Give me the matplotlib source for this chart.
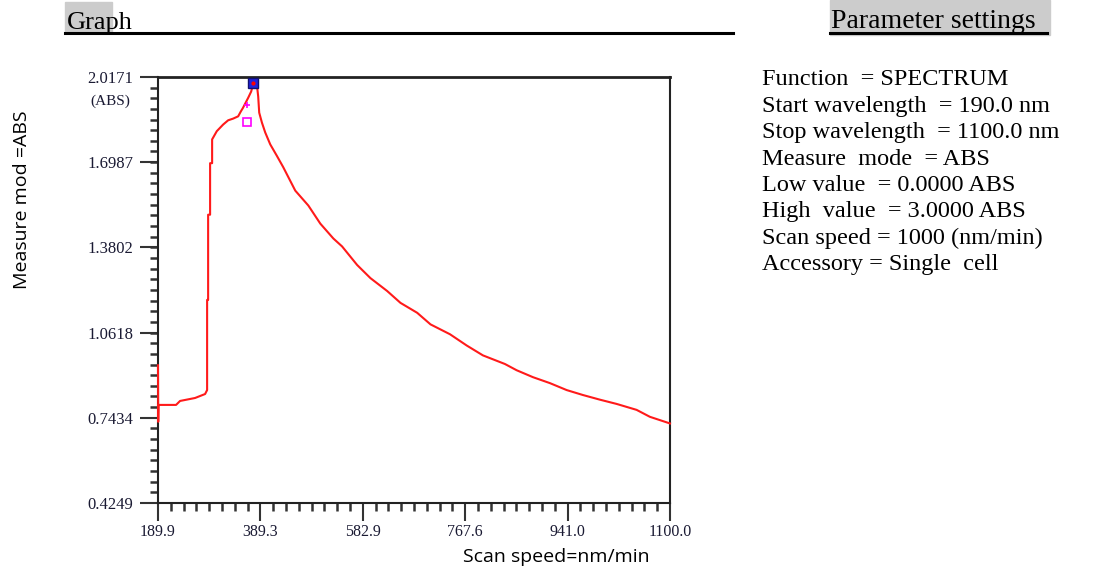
import numpy as np
import matplotlib.pyplot as plt
from matplotlib.ticker import AutoMinorLocator

# spectrum trace
wavelength = [189.9, 190.3, 190.8, 222.0, 229.1, 255.8, 273.6, 277.2,
              277.2, 279.0, 279.0, 282.5, 282.5, 286.1, 286.1, 294.4,
              305.7, 314.6, 323.5, 332.4, 337.2, 340.8, 350.2, 355.5,
              358.6, 359.6, 365.7, 368.0, 369.8, 374.6, 380.5, 389.4,
              401.3, 412.5, 433.9, 457.1, 478.4, 501.6, 517.1, 543.8,
              567.5, 597.2, 620.9, 650.6, 674.3, 709.0, 738.6, 767.5,
              806.6, 827.4, 856.4, 886.6, 916.3, 945.2, 975.4, 1005.1,
              1040.6, 1064.3, 1100.0]
absorbance = [0.9396, 0.7285, 0.7915, 0.7915, 0.8063, 0.8174, 0.8322, 0.8470,
              1.1840, 1.1840, 1.5024, 1.5024, 1.6950, 1.6950, 1.7838, 1.8146,
              1.8394, 1.8553, 1.8616, 1.8701, 1.8886, 1.9012, 1.9393, 1.9627,
              1.9875, 1.9960, 1.9875, 1.9442, 1.8838, 1.8468, 1.8097, 1.7653,
              1.7220, 1.6801, 1.5924, 1.5368, 1.4691, 1.4135, 1.3839, 1.3147,
              1.2654, 1.2173, 1.1729, 1.1358, 1.0925, 1.0555, 1.0136, 0.9766,
              0.9444, 0.9211, 0.8952, 0.8729, 0.8470, 0.8285, 0.8111, 0.7952,
              0.7730, 0.7470, 0.7222]

peak_x, peak_y = 359.6, 1.9960
cursor_x, cursor_y = 347.9, 1.8479
plus_x, plus_y = 348.4, 1.9134

x_labels = ["189.9", "389.3", "582.9", "767.6", "941.0", "1100.0"]
y_ticks = [2.0171, 1.6987, 1.3802, 1.0618, 0.7434, 0.4249]

params = ["Function  = SPECTRUM",
          "Start wavelength  = 190.0 nm",
          "Stop wavelength  = 1100.0 nm",
          "Measure  mode  = ABS",
          "Low value  = 0.0000 ABS",
          "High  value  = 3.0000 ABS",
          "Scan speed = 1000 (nm/min)",
          "Accessory = Single  cell"]

fig = plt.figure(figsize=(10.95, 5.77), dpi=100)
ax = fig.add_axes([158 / 1095, 1 - 503 / 577, 512 / 1095, 426 / 577])

ax.plot(wavelength, absorbance, color="#ff1a1a", lw=1.5, zorder=3, clip_on=False)
ax.plot(peak_x, peak_y, marker="s", ms=7, mfc="#2222dd", mec="#101070", mew=1, zorder=4)
ax.plot(peak_x, peak_y, marker="o", ms=2, color="red", zorder=5)
ax.plot(cursor_x, cursor_y, marker="s", ms=6, mfc="none", mec="magenta", mew=1.2, zorder=4)
ax.plot(plus_x, plus_y, marker="+", ms=5, color="magenta", mew=1.2, zorder=4)

ax.set_xlim(189.9, 1100.0)
ax.set_ylim(0.4249, 2.0171)
ax.set_xticks(np.linspace(189.9, 1100.0, len(x_labels)), x_labels)
ax.set_yticks(y_ticks, [f"{v:.4f}" for v in y_ticks])
ax.xaxis.set_minor_locator(AutoMinorLocator(8))
ax.yaxis.set_minor_locator(AutoMinorLocator(8))
ax.tick_params(which="major", direction="out", length=13, width=1.5, color="#333333")
ax.tick_params(which="minor", direction="out", length=6, width=1.8, color="#333333")
ax.tick_params(axis="x", labelsize=11.5, pad=2)
ax.tick_params(axis="y", labelsize=12, pad=5)
for lab in ax.get_xticklabels() + ax.get_yticklabels():
    lab.set_family("Liberation Serif")
    lab.set_color("#1a1a33")
for s in ax.spines.values():
    s.set_linewidth(1.5)
    s.set_color("#222222")
ax.spines["top"].set_linewidth(2)

ax.text(130 / 1095, 1 - 101 / 577, "(ABS)", transform=fig.transFigure, ha="right",
        va="center", fontsize=11, family="Liberation Serif", color="#1a1a33")

fig.text(22 / 1095, 1 - 200 / 577, "Measure mod =ABS", rotation=90, ha="center",
         va="center", fontsize=14, family="Open Sans")
fig.text(556 / 1095, 1 - 557 / 577, "Scan speed=nm/min", ha="center", va="center",
         fontsize=14, family="Open Sans")

# headings with grey highlight and underline
fig.patches.append(plt.Rectangle((65 / 1095, 1 - 33 / 577), 47 / 1095, 31 / 577,
                                 transform=fig.transFigure, color="#cccccc", zorder=0))
fig.text(67 / 1095, 1 - 29 / 577, "Graph", fontsize=19, family="Liberation Serif", va="baseline")
fig.add_artist(plt.Line2D([65 / 1095, 733 / 1095], [1 - 32.5 / 577] * 2, color="black", lw=2.2))

fig.patches.append(plt.Rectangle((830 / 1095, 1 - 35 / 577), 220 / 1095, 35 / 577,
                                 transform=fig.transFigure, color="#cccccc", zorder=0))
fig.text(831 / 1095, 1 - 28 / 577, "Parameter settings", fontsize=20,
         family="Liberation Serif", va="baseline")
fig.add_artist(plt.Line2D([830 / 1095, 1047 / 1095], [1 - 33 / 577] * 2, color="black", lw=2.2))

for i, line in enumerate(params):
    fig.text(762 / 1095, 1 - (80 + 26.4 * i) / 577, line, fontsize=17.5,
             family="Liberation Serif", va="center")

plt.savefig("out.png", dpi=100)
